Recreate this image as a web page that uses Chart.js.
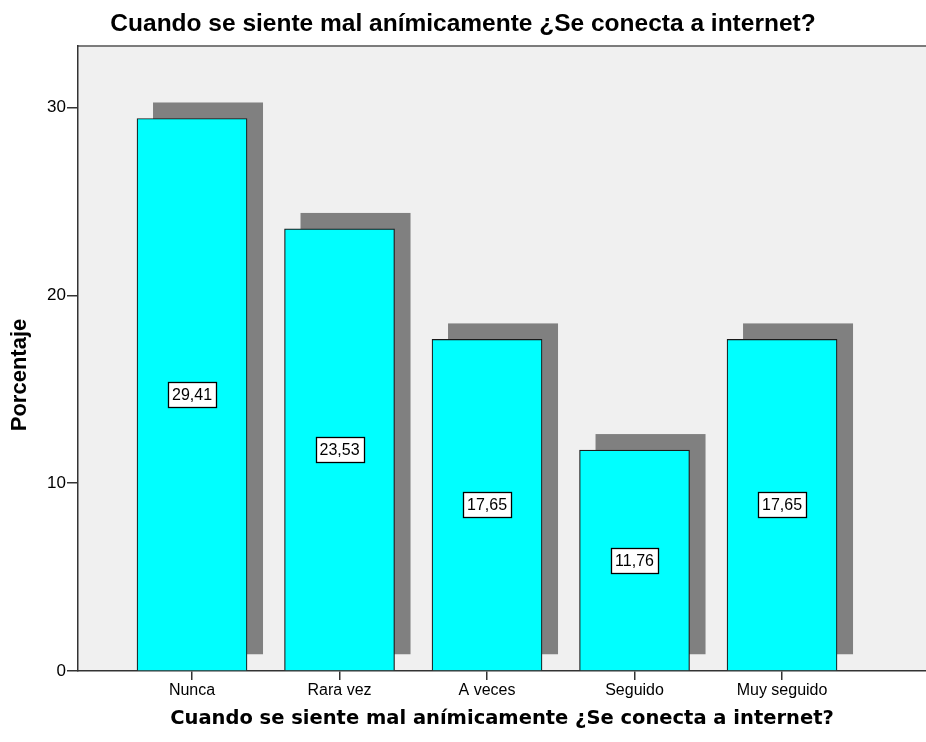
<!DOCTYPE html>
<html>
<head>
<meta charset="utf-8">
<title>Cuando se siente mal anímicamente</title>
<script src="https://cdn.jsdelivr.net/npm/chart.js@4/dist/chart.umd.min.js"></script>
<style>
    html, body { margin: 0; padding: 0; background: #ffffff; }
    #wrap { width: 926px; height: 742px; }
</style>
</head>
<body>
<div id="wrap"><canvas id="chart" width="926" height="742"></canvas></div>
<script>
// Datos
const categorias = ['Nunca', 'Rara vez', 'A veces', 'Seguido', 'Muy seguido'];
const porcentajes = [29.41, 23.53, 17.65, 11.76, 17.65];
const ticksY = [0, 10, 20, 30];

const titulo = 'Cuando se siente mal anímicamente ¿Se conecta a internet?';
const tituloY = 'Porcentaje';
const arial = '"Liberation Sans", Arial, sans-serif';

// Fondo gris del área de trazado y borde superior
const fondoPlugin = {
    id: 'fondo',
    beforeDraw(chart) {
        const { ctx, chartArea: a } = chart;
        ctx.save();
        ctx.fillStyle = '#f0f0f0';
        ctx.fillRect(a.left, a.top, a.right - a.left, a.bottom - a.top);
        ctx.strokeStyle = '#555555';
        ctx.lineWidth = 1.5;
        ctx.beginPath();
        ctx.moveTo(a.left, a.top + 0.5);
        ctx.lineTo(a.right, a.top + 0.5);
        ctx.stroke();
        ctx.restore();
    },
    // título vertical del eje Y, centrado en el lienzo
    afterDraw(chart) {
        const { ctx } = chart;
        ctx.save();
        ctx.translate(20, chart.height / 2 + 4);
        ctx.rotate(-Math.PI / 2);
        ctx.font = 'bold 22px ' + arial;
        ctx.fillStyle = '#000000';
        ctx.textAlign = 'center';
        ctx.textBaseline = 'middle';
        ctx.fillText(tituloY, 0, 0);
        ctx.restore();
    }
};

// Sombra gris desplazada detrás de cada barra
const sombraPlugin = {
    id: 'sombra',
    beforeDatasetsDraw(chart) {
        const { ctx } = chart;
        const d = 16;
        ctx.save();
        ctx.fillStyle = '#808080';
        chart.getDatasetMeta(0).data.forEach(bar => {
            const w = bar.width;
            ctx.fillRect(bar.x - w / 2 + d, bar.y - d, w, bar.base - bar.y);
        });
        ctx.restore();
    }
};

// Etiquetas con el valor dentro de un recuadro blanco
const etiquetasPlugin = {
    id: 'etiquetas',
    afterDatasetsDraw(chart) {
        const { ctx } = chart;
        ctx.save();
        ctx.font = '16px ' + arial;
        ctx.textAlign = 'center';
        ctx.textBaseline = 'middle';
        chart.getDatasetMeta(0).data.forEach((bar, i) => {
            const txt = porcentajes[i].toFixed(2).replace('.', ',');
            const cy = (bar.y + bar.base) / 2;
            const tw = ctx.measureText(txt).width;
            const bw = Math.round(tw + 8), bh = 25;
            const x0 = Math.round(bar.x - bw / 2) + 0.5, y0 = Math.round(cy - bh / 2) + 0.5;
            ctx.fillStyle = '#ffffff';
            ctx.fillRect(x0, y0, bw, bh);
            ctx.strokeStyle = '#000000';
            ctx.lineWidth = 1.3;
            ctx.strokeRect(x0, y0, bw, bh);
            ctx.fillStyle = '#000000';
            ctx.fillText(txt, bar.x, cy + 1);
        });
        ctx.restore();
    }
};

const ctx = document.getElementById('chart').getContext('2d');
new Chart(ctx, {
    type: 'bar',
    data: {
        datasets: [{
            data: porcentajes.map((v, i) => ({ x: i + 1, y: v })),
            backgroundColor: '#00ffff',
            borderColor: '#1a1a1a',
            borderWidth: 1.2,
            borderSkipped: 'bottom',
            barThickness: 110
        }]
    },
    options: {
        responsive: false,
        animation: false,
        layout: { padding: 0 },
        plugins: {
            legend: { display: false },
            tooltip: { enabled: false },
            title: {
                display: true,
                text: titulo,
                color: '#000000',
                font: { family: arial, size: 24.5, weight: 'bold' },
                padding: { top: 10, bottom: 6 }
            }
        },
        scales: {
            x: {
                type: 'linear',
                offset: false,
                min: 0.227,
                max: 5.976,
                afterBuildTicks(scale) {
                    scale.ticks = categorias.map((c, i) => ({ value: i + 1 }));
                },
                afterFit(scale) { scale.height = 71; },
                ticks: {
                    autoSkip: false,
                    maxRotation: 0,
                    color: '#000000',
                    padding: 1,
                    font: { family: arial, size: 16 },
                    callback: v => categorias[v - 1]
                },
                grid: { offset: false, drawOnChartArea: false, drawTicks: true, tickLength: 9, color: '#333333', lineWidth: 1.5 },
                border: { display: true, color: '#333333', width: 1.5 },
                title: {
                    display: true,
                    text: titulo,
                    color: '#000000',
                    font: { family: '"DejaVu Sans", Verdana, sans-serif', size: 19.5, weight: 'bold' },
                    padding: 11
                }
            },
            y: {
                min: 0,
                max: 33.3,
                afterBuildTicks(scale) {
                    scale.ticks = ticksY.map(v => ({ value: v }));
                },
                afterFit(scale) { scale.width = 78; },
                ticks: {
                    color: '#000000',
                    padding: 1,
                    font: { family: arial, size: 17 }
                },
                grid: { drawOnChartArea: false, drawTicks: true, tickLength: 11, color: '#333333', lineWidth: 1.5 },
                border: { display: true, color: '#333333', width: 1.5 }
            }
        }
    },
    plugins: [fondoPlugin, sombraPlugin, etiquetasPlugin]
});
</script>
</body>
</html>
